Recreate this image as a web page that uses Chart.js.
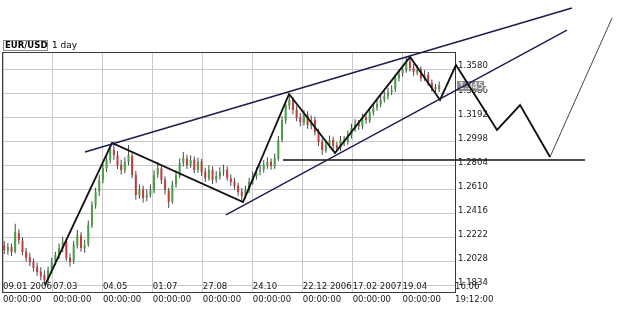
<!DOCTYPE html>
<html>
<head>
<meta charset="utf-8">
<script src="https://cdn.jsdelivr.net/npm/chart.js@4.4.1/dist/chart.umd.min.js"></script>
<style>
html,body{margin:0;padding:0;background:#fff;}
canvas{display:block;}
</style>
</head>
<body>
<canvas id="chart" width="625" height="310"></canvas>
<script>
const canvas = document.getElementById("chart");

/* Akser */
const tickBars = [0,41,82,123,164,205,246,287,328,371];
const dateLabels = ["09.01 2006","07.03","04.05","01.07","27.08","24.10","22.12 2006","17.02 2007","19.04","16.06"];
const timeLabels = ["00:00:00","00:00:00","00:00:00","00:00:00","00:00:00","00:00:00","00:00:00","00:00:00","00:00:00","19:12:00"];
const priceTicks = [1.1834,1.2028,1.2222,1.2416,1.2610,1.2804,1.2998,1.3192,1.3386,1.3580];
const X_MIN = 0, X_MAX = 371;
const Y_MIN = 1.1785, Y_MAX = 1.3717;
const CANDLE_STEP = 3; // handelsdager per lys

/* Lys (EUR/USD) */
const opens = [
 1.2160,1.2118,1.2150,1.2110,1.2260,1.2198,1.2112,1.2065,1.2030,1.1985,
 1.1950,1.1920,1.1885,1.1958,1.2030,1.2080,1.2135,1.2190,1.2062,1.2030,
 1.2160,1.2240,1.2135,1.2168,1.2320,1.2480,1.2595,1.2690,1.2780,1.2850,
 1.2930,1.2885,1.2810,1.2765,1.2835,1.2880,1.2730,1.2560,1.2610,1.2545,
 1.2570,1.2600,1.2730,1.2780,1.2690,1.2600,1.2515,1.2650,1.2720,1.2825,
 1.2860,1.2810,1.2850,1.2770,1.2835,1.2755,1.2700,1.2770,1.2690,1.2715,
 1.2755,1.2770,1.2700,1.2675,1.2640,1.2595,1.2560,1.2600,1.2675,1.2715,
 1.2755,1.2770,1.2805,1.2835,1.2795,1.2860,1.3010,1.3165,1.3285,1.3335,
 1.3255,1.3190,1.3150,1.3215,1.3125,1.3170,1.3075,1.2995,1.2925,1.2970,
 1.3010,1.2965,1.2940,1.3010,1.2990,1.3045,1.3100,1.3140,1.3118,1.3190,
 1.3165,1.3230,1.3270,1.3295,1.3335,1.3360,1.3398,1.3415,1.3505,1.3545,
 1.3570,1.3640,1.3590,1.3550,1.3575,1.3505,1.3535,1.3470,1.3435,1.3415];
const closes = [
 1.2123,1.2147,1.2107,1.2268,1.2203,1.2107,1.2059,1.2026,1.1978,1.1946,
 1.1914,1.1881,1.1962,1.2026,1.2083,1.2139,1.2187,1.2059,1.2026,1.2163,
 1.2244,1.2139,1.2163,1.2324,1.2485,1.2590,1.2686,1.2783,1.2847,1.2928,
 1.2888,1.2807,1.2767,1.2831,1.2888,1.2727,1.2566,1.2606,1.2542,1.2566,
 1.2606,1.2727,1.2783,1.2686,1.2606,1.2510,1.2646,1.2727,1.2823,1.2864,
 1.2807,1.2847,1.2767,1.2831,1.2751,1.2703,1.2767,1.2686,1.2719,1.2751,
 1.2767,1.2703,1.2670,1.2638,1.2590,1.2558,1.2606,1.2670,1.2719,1.2751,
 1.2767,1.2807,1.2831,1.2799,1.2864,1.3008,1.3169,1.3290,1.3330,1.3250,
 1.3186,1.3153,1.3210,1.3129,1.3169,1.3073,1.2992,1.2928,1.2968,1.3008,
 1.2960,1.2944,1.3008,1.2992,1.3049,1.3105,1.3137,1.3121,1.3186,1.3169,
 1.3234,1.3266,1.3298,1.3330,1.3363,1.3395,1.3411,1.3508,1.3540,1.3572,
 1.3636,1.3588,1.3556,1.3572,1.3508,1.3532,1.3475,1.3430,1.3420,1.3451];
const highs = [
 1.2195,1.2180,1.2175,1.2335,1.2290,1.2225,1.2140,1.2100,1.2055,1.2020,
 1.1985,1.1960,1.1990,1.2060,1.2110,1.2175,1.2230,1.2215,1.2095,1.2195,
 1.2285,1.2265,1.2205,1.2360,1.2515,1.2625,1.2725,1.2815,1.2885,1.2965,
 1.2996,1.2920,1.2850,1.2870,1.2968,1.2910,1.2760,1.2650,1.2640,1.2610,
 1.2650,1.2765,1.2830,1.2805,1.2715,1.2625,1.2680,1.2765,1.2860,1.2912,
 1.2890,1.2885,1.2875,1.2865,1.2855,1.2785,1.2805,1.2795,1.2760,1.2790,
 1.2810,1.2795,1.2730,1.2705,1.2665,1.2620,1.2640,1.2705,1.2755,1.2790,
 1.2810,1.2845,1.2870,1.2860,1.2900,1.3040,1.3200,1.3325,1.3365,1.3355,
 1.3285,1.3225,1.3250,1.3240,1.3205,1.3195,1.3100,1.3020,1.3005,1.3045,
 1.3035,1.2995,1.3040,1.3040,1.3085,1.3140,1.3175,1.3170,1.3220,1.3215,
 1.3270,1.3300,1.3330,1.3365,1.3400,1.3430,1.3450,1.3540,1.3575,1.3610,
 1.3677,1.3665,1.3620,1.3610,1.3600,1.3570,1.3555,1.3495,1.3460,1.3480];
const lows = [
 1.2090,1.2085,1.2075,1.2095,1.2170,1.2080,1.2030,1.1995,1.1950,1.1915,
 1.1880,1.1842,1.1860,1.1935,1.2000,1.2050,1.2105,1.2035,1.1990,1.2010,
 1.2135,1.2110,1.2100,1.2150,1.2300,1.2455,1.2560,1.2660,1.2750,1.2820,
 1.2850,1.2775,1.2730,1.2740,1.2805,1.2700,1.2530,1.2535,1.2505,1.2515,
 1.2545,1.2580,1.2705,1.2655,1.2570,1.2461,1.2495,1.2625,1.2700,1.2795,
 1.2775,1.2785,1.2740,1.2745,1.2720,1.2670,1.2680,1.2655,1.2665,1.2690,
 1.2720,1.2680,1.2640,1.2610,1.2560,1.2515,1.2535,1.2580,1.2650,1.2690,
 1.2725,1.2745,1.2775,1.2770,1.2775,1.2840,1.2990,1.3140,1.3255,1.3215,
 1.3160,1.3120,1.3125,1.3100,1.3095,1.3045,1.2960,1.2890,1.2905,1.2945,
 1.2930,1.2915,1.2920,1.2960,1.2970,1.3020,1.3075,1.3090,1.3095,1.3140,
 1.3145,1.3205,1.3245,1.3270,1.3310,1.3335,1.3370,1.3395,1.3480,1.3520,
 1.3550,1.3560,1.3525,1.3530,1.3480,1.3485,1.3445,1.3400,1.3390,1.3395];

/* Tegnede linjer (handelsdag, kurs) */
const upperLineX = [67.3, 467.0];
const upperLineY = [1.2912, 1.4071];
const lowerLineX = [183.0, 462.9];
const lowerLineY = [1.2405, 1.3894];
const levelX = [229.8, 477.7];
const levelY = [1.2848, 1.2848];
const zigzagX = [34.5, 89.5, 197.0, 234.8, 272.5, 334.1, 358.7, 371.8, 405.5, 424.4, 449.0];
const zigzagY = [1.1841, 1.2985, 1.2509, 1.3379, 1.2904, 1.3677, 1.3331, 1.3612, 1.3089, 1.3290, 1.2872];
const finalX = [449.0, 499.9];
const finalY = [1.2872, 1.3991];

const FAMILY = "'Liberation Sans Narrow','DejaVu Sans Condensed','Liberation Sans',sans-serif";
const UP = "#45a045", DOWN = "#c23c3c", WICK = "#474747";

/* Hjelp */
const candleX = i => i*CANDLE_STEP + 1;
const pts = (xs, ys) => xs.map((x,i)=>({x, y:ys[i]}));
const lineDs = (label, xs, ys, color, width) => ({
  type:"line", label, data:pts(xs,ys), borderColor:color, borderWidth:width,
  pointRadius:0, fill:false, tension:0, clip:false, order:0
});

const wicks = highs.map((h,i)=>({x:candleX(i), y:[lows[i], h]}));
const bodies = opens.map((o,i)=>({x:candleX(i), y:[o, closes[i]]}));
const lastPrice = closes[closes.length-1];

/* Ramme, overskrift og kursboks */
const decor = {
  id:"decor",
  beforeDatasetsDraw(chart){
    const {ctx, chartArea:a, scales:{y}} = chart;
    ctx.save();
    ctx.strokeStyle = "#3a3a3a";
    ctx.lineWidth = 1;
    ctx.strokeRect(a.left-0.5, a.top+0.5, a.right-a.left+1, a.bottom-a.top);

    const py = Math.round(y.getPixelForValue(lastPrice));
    ctx.fillStyle = "#8d8d8d";
    ctx.fillRect(a.right+2, py-4, 27, 10);
    ctx.fillStyle = "#fff";
    ctx.font = "9.5px " + FAMILY;
    ctx.textBaseline = "middle";
    ctx.fillText(lastPrice.toFixed(4), a.right+4, py+1.5);

    ctx.fillStyle = "#000";
    ctx.strokeStyle = "#8a8a8a";
    ctx.strokeRect(3.5, 40.5, 44, 10);
    ctx.font = "bold 8.5px 'DejaVu Sans'";
    ctx.fillText("EUR/USD", 5, 46);
    ctx.font = "9px 'DejaVu Sans'";
    ctx.fillText("1 day", 52, 46);
    ctx.restore();
  }
};

new Chart(canvas, {
  type:"bar",
  data:{
    datasets:[
      lineDs("Trend opp", upperLineX, upperLineY, "#1b1b4d", 1.4),
      lineDs("Kanal", lowerLineX, lowerLineY, "#1b1b4d", 1.4),
      lineDs("Nivå", levelX, levelY, "#111", 1.6),
      lineDs("Sikksakk", zigzagX, zigzagY, "#111", 1.9),
      lineDs("Mål", finalX, finalY, "#444", 1),
      {label:"Kropp", data:bodies, grouped:false, barThickness:2, order:1, inflateAmount:0,
       backgroundColor:c => { const r = c.raw; return r && r.y[1] >= r.y[0] ? UP : DOWN; }},
      {label:"Veke", data:wicks, grouped:false, barThickness:1, order:2, inflateAmount:0,
       backgroundColor:WICK}
    ]
  },
  options:{
    responsive:false,
    animation:false,
    events:[],
    layout:{padding:{left:3, top:52, right:0, bottom:0}},
    plugins:{legend:{display:false}, tooltip:{enabled:false}},
    scales:{
      x:{
        type:"linear", offset:false, bounds:"data",
        afterDataLimits:s => { s.min = X_MIN; s.max = X_MAX; },
        afterBuildTicks:s => { s.ticks = tickBars.map(v=>({value:v})); },
        afterFit:s => { s.height = 18; },
        grid:{color:"#c9c9c9", offset:false, drawTicks:false},
        border:{display:false},
        ticks:{
          autoSkip:false, maxRotation:0, align:"start", mirror:true, padding:-1,
          color:"#1a1a1a", font:{family:FAMILY, size:9.5, lineHeight:1.37},
          callback:(v,i) => [dateLabels[i], timeLabels[i]]
        }
      },
      y:{
        type:"linear", position:"right", beginAtZero:false,
        min:Y_MIN, max:Y_MAX,
        afterBuildTicks:s => { s.ticks = priceTicks.map(v=>({value:v})); },
        afterFit:s => { s.width = 170; },
        grid:{color:"#c9c9c9", drawTicks:false},
        border:{display:false},
        ticks:{
          padding:3, labelOffset:-3, color:"#1a1a1a",
          font:{family:FAMILY, size:9.5},
          callback:v => v.toFixed(4)
        }
      }
    }
  },
  plugins:[decor]
});
</script>
</body>
</html>
